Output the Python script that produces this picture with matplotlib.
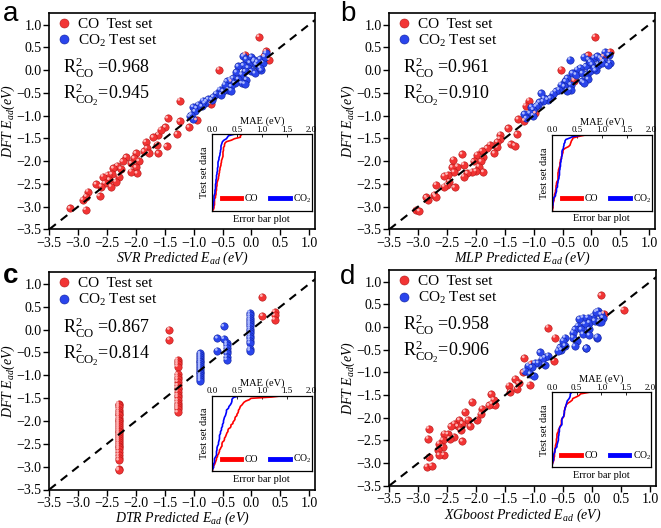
import matplotlib
matplotlib.use('Agg')
import matplotlib.pyplot as plt
import matplotlib.transforms as mtransforms
from matplotlib.lines import Line2D
import numpy as np

plt.rcParams['font.family'] = ['Liberation Serif', 'DejaVu Serif']
plt.rcParams['mathtext.fontset'] = 'custom'
plt.rcParams['mathtext.rm'] = 'Liberation Serif'
plt.rcParams['mathtext.it'] = 'Liberation Serif:italic'
plt.rcParams['mathtext.bf'] = 'Liberation Serif:bold'

# ---------------- data (predicted vs DFT adsorption energy, eV) ----------------
# panel a : SVR
co_pred_a = [-1.24,-1.45,-1.24,-1.08,-1.29,-1.49,-1.61,-1.57,-1.70,-1.47,-1.63,-1.61,-1.83,-1.81,-1.86,-1.78,
             -2.00,-2.03,-1.95,-2.17,-2.08,-2.00,-1.98,-2.23,-2.32,-2.26,-2.39,-2.08,-2.29,-2.42,-2.49,-2.57,
             -2.35,-2.46,-2.54,-2.60,-2.69,-2.43,-2.63,-2.83,-2.86,-3.14,-2.87,-2.92,-0.70,-0.95,-0.56,-0.35,
             0.13,0.25,0.31,-0.11,0.22]
co_dft_a = [-0.67,-1.06,-1.13,-1.26,-1.41,-1.26,-1.42,-1.31,-1.48,-1.68,-1.64,-1.83,-1.58,-1.72,-1.79,-1.83,
            -1.83,-1.94,-2.00,-1.92,-2.05,-2.14,-2.27,-2.01,-2.10,-2.17,-2.16,-2.23,-2.34,-2.29,-2.30,-2.34,
            -2.45,-2.41,-2.49,-2.56,-2.51,-2.56,-2.77,-2.67,-2.78,-3.04,-3.07,-2.85,-0.74,-1.10,0.01,-0.25,
            0.73,0.41,0.23,0.34,0.30]
co2_pred_a = [-0.14,-0.09,0.00,0.04,-0.03,0.08,0.15,0.12,-0.06,-0.14,-0.23,-0.11,0.00,0.06,0.17,0.20,0.23,
              -0.17,-0.26,-0.32,-0.23,-0.09,-0.17,-0.29,-0.37,-0.43,-0.35,-0.40,-0.35,-0.46,-0.49,-0.55,-0.61,
              -0.52,-0.66,-0.69,-0.75,-0.78,-0.81,-0.84,-0.86,-0.92,-0.95,-1.01,-0.98,-1.07,-1.01,-1.04,-0.12,
              0.25,0.05,0.10,0.15]
co2_dft_a = [0.30,0.24,0.29,0.19,0.16,0.12,0.24,0.08,0.05,0.10,0.08,-0.03,-0.03,-0.07,-0.01,0.16,0.29,
             -0.10,-0.05,-0.18,-0.20,-0.21,-0.29,-0.29,-0.21,-0.25,-0.36,-0.43,-0.45,-0.32,-0.47,-0.43,-0.52,
             -0.54,-0.59,-0.65,-0.64,-0.69,-0.73,-0.67,-0.80,-0.76,-0.84,-0.81,-0.91,-1.02,-1.08,-0.98,-0.30,
             0.37,0.22,0.18,0.05]

# panel b : MLP
co_pred_b = [-1.08,-1.27,-1.16,-1.44,-1.29,-1.58,-1.59,-1.40,-1.33,-1.63,-1.63,-1.76,-1.81,-1.68,-1.90,-1.98,
             -1.88,-2.24,-2.04,-1.91,-1.95,-1.87,-2.00,-2.07,-2.21,-2.32,-2.41,-2.38,-2.15,-2.21,-2.39,-2.49,
             -2.46,-2.50,-2.55,-2.69,-2.37,-2.72,-2.83,-2.86,-3.03,-2.98,-2.70,0.06,0.32,-0.06,-0.52,-1.14,
             -0.30,0.21,0.18,-0.97,-2.55]
co_dft_b = [-0.67,-1.08,-1.11,-1.28,-1.41,-1.42,-1.51,-1.63,-1.66,-1.58,-1.70,-1.64,-1.72,-1.83,-1.78,-1.86,
            -1.92,-1.85,-2.01,-2.01,-2.12,-2.24,-2.22,-2.23,-2.08,-2.12,-2.14,-2.24,-2.27,-2.34,-1.97,-2.30,
            -2.45,-2.52,-2.56,-2.52,-2.58,-2.74,-2.85,-2.80,-3.07,-3.10,-2.78,0.73,0.40,0.32,0.01,-0.78,
            -0.23,0.30,0.23,-0.95,-2.33]
co2_pred_b = [-0.37,-0.13,-0.05,0.04,0.10,0.15,0.21,0.12,0.01,-0.10,-0.19,-0.25,-0.33,-0.27,-0.16,-0.08,
              -0.02,0.07,0.18,-0.16,-0.06,-0.42,-0.45,-0.36,-0.47,-0.53,-0.56,-0.36,-0.42,-0.62,-0.67,-0.71,
              -0.76,-0.82,-0.84,-0.90,-0.93,-0.96,-1.01,-1.04,-1.07,-1.16,-1.13,-1.01,-0.87,0.23,-0.13,
              0.30,0.32,0.28,0.05,-0.02]
co2_dft_b = [0.23,0.29,0.23,0.27,0.30,0.27,0.19,0.12,0.12,0.08,0.05,0.01,-0.07,-0.10,-0.07,-0.10,
             -0.03,-0.01,0.16,-0.25,-0.20,-0.18,-0.25,-0.32,-0.36,-0.32,-0.43,-0.43,-0.45,-0.47,-0.52,-0.62,
             -0.65,-0.62,-0.69,-0.71,-0.76,-0.80,-0.87,-0.81,-0.95,-0.97,-1.06,-1.00,-0.51,0.40,-0.28,
             0.33,0.16,0.10,0.05,0.18]

# panel c : DTR (tree predictions come in discrete levels)
co_levels_c = [-2.30, -1.28, -1.42, 0.19, 0.40]
co_dft_groups_c = [
    [-1.62,-1.66,-1.70,-1.75,-1.80,-1.84,-1.88,-1.93,-1.97,-2.01,-2.05,-2.09,-2.13,-2.17,-2.21,-2.25,
     -2.29,-2.33,-2.37,-2.41,-2.45,-2.50,-2.54,-2.58,-2.62,-2.68,-2.74,-2.80,-2.86,-3.05,-3.08],
    [-0.66,-0.71,-0.76,-0.81,-0.98,-1.03,-1.08,-1.14,-1.22,-1.27,-1.31,-1.36,-1.43,-1.48,-1.55,-1.60,
     -1.66,-1.70,-1.74,-1.81],
    [0.00,-0.22],
    [0.72,0.30],
    [0.39,0.31,0.22],
]
co2_levels_c = [-0.89, -0.59, -0.48, -0.43, -0.03]
co2_dft_groups_c = [
    [-0.52,-0.56,-0.60,-0.64,-0.68,-0.72,-0.76,-0.80,-0.84,-0.88,-0.92,-0.96,-1.00,-1.04,-1.08,-1.12],
    [-0.19,-0.46],
    [0.07,-0.20],
    [-0.29,-0.34,-0.40,-0.46,-0.52,-0.60,-0.66],
    [0.37,0.31,0.26,0.21,0.16,0.12,0.07,0.02,-0.03,-0.08,-0.13,-0.18,-0.24,-0.30,-0.42,-0.46],
]

# panel d : XGboost
co_pred_d = [-1.17,-1.06,-1.33,-1.44,-1.27,-1.29,-1.41,-1.08,-1.74,-1.73,-1.67,-1.78,-1.70,-1.90,-2.07,-1.92,
             -1.99,-2.14,-2.10,-2.19,-2.29,-2.24,-2.32,-2.38,-2.27,-2.44,-2.49,-2.38,-2.46,-2.24,-2.55,-2.58,
             -2.64,-2.58,-2.66,-2.56,-2.64,-2.82,-2.83,-2.82,-2.85,-2.77,0.15,0.54,0.20,-0.76,-0.64,-0.66,-1.19]
co_dft_d = [-0.68,-0.81,-1.14,-1.29,-1.24,-1.36,-1.43,-1.27,-1.48,-1.69,-1.73,-1.73,-1.60,-1.80,-1.65,-1.92,
            -2.04,-2.05,-2.19,-1.87,-2.05,-2.13,-2.19,-2.13,-2.27,-2.19,-2.36,-2.42,-2.46,-2.52,-2.35,-2.49,
            -2.57,-2.64,-2.71,-2.82,-2.82,-2.87,-2.46,-2.24,-3.08,-3.06,0.70,0.38,0.30,-0.01,-0.23,-0.74,-1.00]
co2_pred_d = [0.10,0.15,0.01,-0.08,-0.16,-0.22,-0.05,0.04,0.12,-0.13,-0.25,-0.30,-0.19,-0.05,-0.33,-0.16,
              -0.05,0.08,-0.33,-0.27,-0.10,-0.47,-0.50,-0.56,-0.53,-0.47,-0.59,-0.76,-0.82,-0.87,-0.90,-0.93,
              -0.99,-1.04,-1.10,-1.16,-1.07,-1.01,-0.82,0.18,0.07,0.09,-0.10,-0.30,0.15]
co2_dft_d = [0.36,0.28,0.25,0.21,0.21,0.18,0.10,0.14,0.12,0.07,0.03,-0.05,-0.05,-0.05,-0.12,-0.15,
             -0.18,-0.23,-0.23,-0.30,-0.47,-0.23,-0.30,-0.45,-0.50,-0.41,-0.52,-0.63,-0.67,-0.70,-0.56,-0.79,
             -0.79,-0.89,-0.85,-0.96,-1.03,-1.07,-0.83,0.21,0.34,-0.21,-0.46,-0.42,0.12]

models = ['SVR', 'MLP', 'DTR', 'XGboost']
letters = ['a', 'b', 'c', 'd']
r2_co = ['0.968', '0.961', '0.867', '0.958']
r2_co2 = ['0.945', '0.910', '0.814', '0.906']
mae_ticks = [0.0, 0.5, 1.0, 1.5, 2.0]

# build panel c arrays from the discrete levels
co_pred_c, co_dft_c = [], []
for lv, grp in zip(co_levels_c, co_dft_groups_c):
    co_pred_c += [lv] * len(grp)
    co_dft_c += grp
co2_pred_c, co2_dft_c = [], []
for lv, grp in zip(co2_levels_c, co2_dft_groups_c):
    co2_pred_c += [lv] * len(grp)
    co2_dft_c += grp

data = [
    (co_pred_a, co_dft_a, co2_pred_a, co2_dft_a),
    (co_pred_b, co_dft_b, co2_pred_b, co2_dft_b),
    (co_pred_c, co_dft_c, co2_pred_c, co2_dft_c),
    (co_pred_d, co_dft_d, co2_pred_d, co2_dft_d),
]

# ---------------- layout ----------------
W, H = 661, 528
fig = plt.figure(figsize=(W / 100, H / 100), dpi=100)


def rect(l, t, r, b):
    return [l / W, 1 - b / H, (r - l) / W, (b - t) / H]


main_rects = [(49.3, 12.7, 315, 229.3), (389.3, 12.7, 655, 229.3),
              (49.3, 272, 315, 489.5), (389.3, 270, 656, 485.7)]
inset_rects = [(212, 134.3, 311.7, 210.7), (552, 135, 651.7, 210.7),
               (212, 395.7, 311.7, 471.3), (552, 392.3, 650.7, 467.3)]
letter_pos = [(3, 21), (340, 21), (3, 283), (340, 284)]

RED, RED_E, RED_H = '#f23434', '#b31616', '#ffb3b3'
BLUE, BLUE_E, BLUE_H = '#2a45ec', '#10219c', '#aab8ff'


def balls(ax, x, y, base, edge, hi):
    ax.scatter(x, y, s=28, c=base, edgecolors=edge, linewidths=0.4, zorder=3)
    tr = mtransforms.offset_copy(ax.transData, fig=fig, x=-0.8, y=0.8, units='points')
    ax.scatter(x, y, s=4, c=hi, edgecolors='none', transform=tr, zorder=4)


for i in range(4):
    cx, cy, c2x, c2y = [np.asarray(v, float) for v in data[i]]
    ax = fig.add_axes(rect(*main_rects[i]))
    ax.set_xlim(-3.5, 1.1)
    ax.set_ylim(-3.5, 1.26)
    balls(ax, cx, cy, RED, RED_E, RED_H)
    balls(ax, c2x, c2y, BLUE, BLUE_E, BLUE_H)
    ax.plot([-3.5, 1.3], [-3.5, 1.3], color='k', ls=(0, (4, 3)), lw=1.5, zorder=5)
    ax.set_xticks(np.arange(-3.5, 1.01, 0.5))
    ax.set_yticks(np.arange(-3.5, 1.01, 0.5))
    ax.tick_params(direction='out', length=4, width=1, labelsize=10, pad=1.5)
    for sp in ax.spines.values():
        sp.set_linewidth(1.2)
    ax.set_xlabel(models[i] + r' Predicted E$_{ad}$ (eV)', fontsize=10, style='italic', labelpad=0)
    ax.set_ylabel(r'DFT E$_{ad}$(eV)', fontsize=10, style='italic', labelpad=0)

    handles = [Line2D([], [], ls='none', marker='o', markersize=6.5, markerfacecolor=RED,
                      markeredgecolor=RED_E, markeredgewidth=0.4),
               Line2D([], [], ls='none', marker='o', markersize=6.5, markerfacecolor=BLUE,
                      markeredgecolor=BLUE_E, markeredgewidth=0.4)]
    ax.legend(handles, ['CO  Test set', r'CO$_2$ Test set'], loc='upper left', frameon=False,
              fontsize=11, handletextpad=0.25, borderaxespad=0.1, labelspacing=0.12,
              handlelength=1.3, borderpad=0.2)

    ax.text(-3.26, -0.08, r'R$^2_{\rm CO}$ =' + r2_co[i], fontsize=13, va='baseline')
    ax.text(-3.26, -0.65, r'R$^2_{\rm CO_2}$=' + r2_co2[i], fontsize=13, va='baseline')

    lx, ly = letter_pos[i]
    fig.text(lx / W, 1 - ly / H, letters[i], fontsize=20, family='Liberation Sans',
             fontweight='bold' if letters[i] == 'c' else 'normal', va='baseline')

    # inset: sorted absolute errors
    axi = fig.add_axes(rect(*inset_rects[i]))
    e1 = np.sort(np.abs(cx - cy))
    e2 = np.sort(np.abs(c2x - c2y))
    axi.plot(e1, np.linspace(0, 1, len(e1)), color='#ff0000', lw=1.2)
    axi.plot(e2, np.linspace(0, 1, len(e2)), color='#0000ff', lw=1.2)
    axi.set_xlim(0, 2)
    axi.set_ylim(0, 1)
    axi.xaxis.tick_top()
    axi.xaxis.set_label_position('top')
    axi.set_xticks(mae_ticks)
    axi.set_xticklabels(['%.1f' % t for t in mae_ticks])
    axi.tick_params(axis='x', direction='in', length=2, width=0.6, labelsize=6.5, pad=0.5)
    axi.set_yticks([])
    for sp in axi.spines.values():
        sp.set_linewidth(0.9)
    axi.set_xlabel('MAE (eV)', fontsize=7.5, labelpad=1.2)
    axi.set_ylabel('Test set data', fontsize=7.5, labelpad=2)
    axi.text(0.5, -0.05, 'Error bar plot', transform=axi.transAxes, ha='center', va='top', fontsize=7.5)
    ih = [Line2D([], [], color='#ff0000', lw=3.5), Line2D([], [], color='#0000ff', lw=3.5)]
    axi.legend(ih, ['CO', r'CO$_2$'], loc='center', bbox_to_anchor=(0.55, 0.16), ncol=2, frameon=False,
               fontsize=7, handlelength=2.0, handletextpad=0.4, columnspacing=1.2, borderaxespad=0.0)

fig.savefig('out.png', dpi=100)
